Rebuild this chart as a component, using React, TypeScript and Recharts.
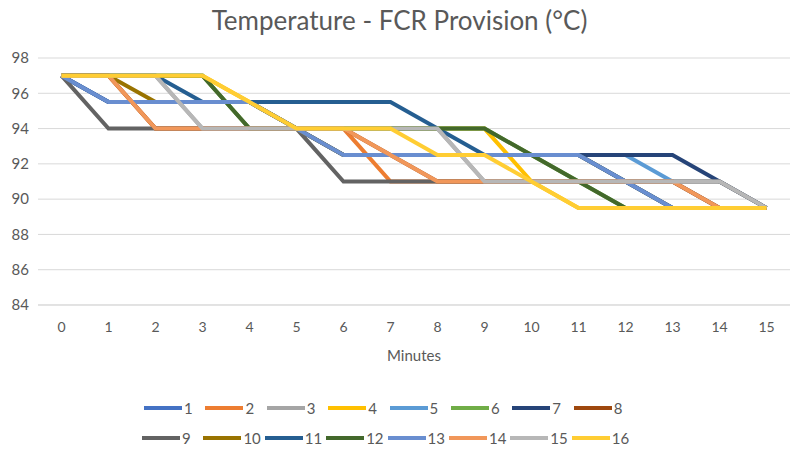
import React from 'react';
import { LineChart, Line, XAxis, YAxis, CartesianGrid, Label } from 'recharts';

// Minute marks along the horizontal axis
const minutes = [0, 1, 2, 3, 4, 5, 6, 7, 8, 9, 10, 11, 12, 13, 14, 15];

// Temperature set-point (°C) per minute for each provision run
const run1 = [97, 95.5, 95.5, 95.5, 95.5, 94, 92.5, 92.5, 92.5, 92.5, 92.5, 92.5, 91, 89.5, 89.5, 89.5];
const run2 = [97, 97, 94, 94, 94, 94, 94, 91, 91, 91, 91, 91, 91, 91, 89.5, 89.5];
const run3 = [97, 97, 97, 94, 94, 94, 94, 94, 94, 91, 91, 91, 91, 91, 91, 89.5];
const run4 = [97, 97, 97, 97, 95.5, 94, 94, 94, 94, 94, 91, 89.5, 89.5, 89.5, 89.5, 89.5];
const run5 = [97, 95.5, 95.5, 95.5, 95.5, 94, 92.5, 92.5, 92.5, 92.5, 92.5, 92.5, 92.5, 91, 89.5, 89.5];
const run6 = [97, 97, 97, 97, 94, 94, 94, 94, 94, 94, 92.5, 91, 89.5, 89.5, 89.5, 89.5];
const run7 = [97, 95.5, 95.5, 95.5, 95.5, 94, 92.5, 92.5, 92.5, 92.5, 92.5, 92.5, 92.5, 92.5, 91, 89.5];
const run8 = [97, 97, 94, 94, 94, 94, 94, 92.5, 91, 91, 91, 91, 91, 91, 89.5, 89.5];
const run9 = [97, 94, 94, 94, 94, 94, 91, 91, 91, 91, 91, 91, 91, 91, 91, 89.5];
const run10 = [97, 97, 95.5, 95.5, 95.5, 94, 92.5, 92.5, 92.5, 92.5, 92.5, 92.5, 91, 89.5, 89.5, 89.5];
const run11 = [97, 97, 97, 95.5, 95.5, 95.5, 95.5, 95.5, 94, 92.5, 92.5, 92.5, 91, 89.5, 89.5, 89.5];
const run12 = [97, 97, 97, 97, 94, 94, 94, 94, 94, 94, 92.5, 91, 89.5, 89.5, 89.5, 89.5];
const run13 = [97, 95.5, 95.5, 95.5, 95.5, 94, 92.5, 92.5, 92.5, 92.5, 92.5, 92.5, 91, 89.5, 89.5, 89.5];
const run14 = [97, 97, 94, 94, 94, 94, 94, 92.5, 91, 91, 91, 91, 91, 91, 89.5, 89.5];
const run15 = [97, 97, 97, 94, 94, 94, 94, 94, 94, 91, 91, 91, 91, 91, 91, 89.5];
const run16 = [97, 97, 97, 97, 95.5, 94, 94, 94, 92.5, 92.5, 91, 89.5, 89.5, 89.5, 89.5, 89.5];

const seriesNames = ['1', '2', '3', '4', '5', '6', '7', '8', '9', '10', '11', '12', '13', '14', '15', '16'];
const seriesColors = [
  '#4472C4', '#ED7D31', '#A5A5A5', '#FFC000', '#5B9BD5', '#70AD47', '#264478', '#9E480E',
  '#636363', '#997300', '#255E91', '#43682B', '#698ED0', '#F1975A', '#B7B7B7', '#FFCD33',
];
const runs = [run1, run2, run3, run4, run5, run6, run7, run8, run9, run10, run11, run12, run13, run14, run15, run16];

const yTicks = [84, 86, 88, 90, 92, 94, 96, 98];

const data = minutes.map((m, i) => {
  const row: Record<string, number> = { minute: m };
  runs.forEach((r, k) => {
    row[seriesNames[k]] = r[i];
  });
  return row;
});

const FONT = 'Lato, "Open Sans", sans-serif';
const TEXT = '#595959';

function LegendRow({ start }: { start: number }) {
  const items = seriesNames.slice(start, start + 8);
  return (
    <div style={{ display: 'flex', alignItems: 'center', height: 20 }}>
      {items.map((name, j) => (
        <div key={name} style={{ width: 61.4, display: 'flex', alignItems: 'center', flexShrink: 0 }}>
          <span style={{ display: 'inline-block', width: 38, height: 4, background: seriesColors[start + j] }} />
          <span style={{ marginLeft: 2, fontSize: 15, color: TEXT, lineHeight: '20px' }}>{name}</span>
        </div>
      ))}
    </div>
  );
}

export default function App() {
  return (
    <div
      style={{
        position: 'relative',
        width: 799,
        height: 451,
        margin: '-8px 0 0 -8px',
        background: '#ffffff',
        fontFamily: FONT,
        overflow: 'hidden',
      }}
    >
      <div
        style={{
          position: 'absolute',
          top: 4,
          left: 0,
          width: 799,
          textAlign: 'center',
          fontSize: 26,
          color: TEXT,
          lineHeight: '32px',
        }}
      >
        Temperature - FCR Provision (°C)
      </div>
      <LineChart width={799} height={451} data={data} margin={{ top: 58, right: 9, bottom: 86, left: 0 }}>
        <CartesianGrid vertical={false} stroke="#D9D9D9" strokeWidth={1} />
        <XAxis
          dataKey="minute"
          type="category"
          padding={{ left: 23.5, right: 23.5 }}
          height={60}
          tickLine={false}
          axisLine={{ stroke: '#D9D9D9' }}
          tickMargin={11}
          tick={{ fill: TEXT, fontSize: 14, fontFamily: FONT }}
          interval={0}
        >
          <Label value="Minutes" position="insideBottom" offset={4} fill={TEXT} fontSize={15} fontFamily={FONT} />
        </XAxis>
        <YAxis
          domain={[84, 98]}
          ticks={yTicks}
          width={38}
          axisLine={false}
          tickLine={false}
          tickMargin={3}
          tick={{ fill: TEXT, fontSize: 15, fontFamily: FONT }}
        />
        {seriesNames.map((name, k) => (
          <Line
            key={name}
            type="linear"
            dataKey={name}
            stroke={seriesColors[k]}
            strokeWidth={4}
            dot={false}
            activeDot={false}
            isAnimationActive={false}
          />
        ))}
      </LineChart>
      <div style={{ position: 'absolute', left: 144, top: 398 }}>
        <LegendRow start={0} />
      </div>
      <div style={{ position: 'absolute', left: 142, top: 428 }}>
        <LegendRow start={8} />
      </div>
    </div>
  );
}
